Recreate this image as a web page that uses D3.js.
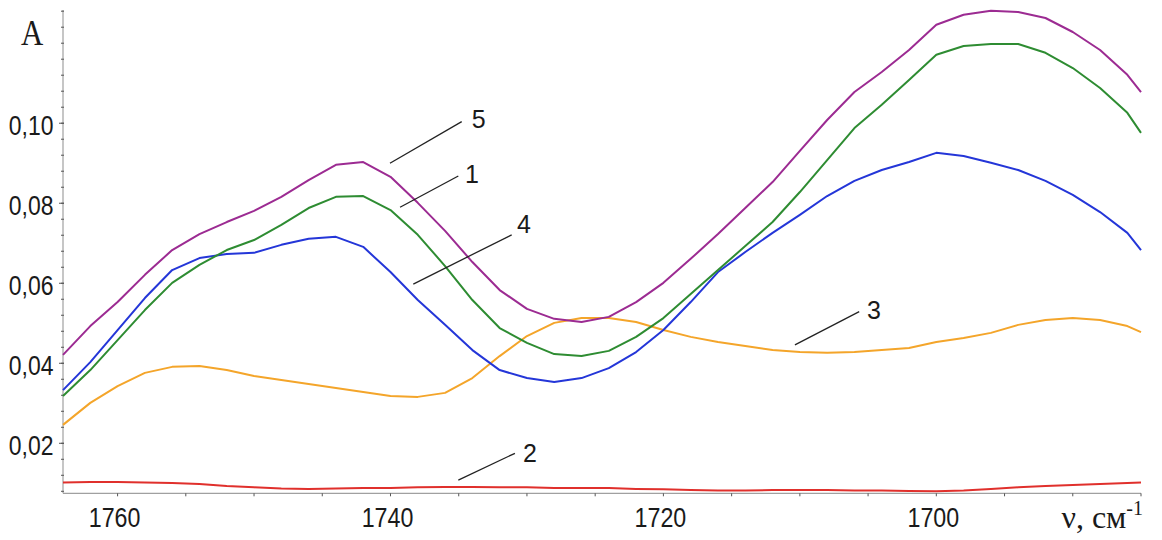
<!DOCTYPE html>
<html>
<head>
<meta charset="utf-8">
<script src="https://cdn.jsdelivr.net/npm/d3@7"></script>
<style>
  html, body { margin: 0; padding: 0; background: #fff; }
  svg { display: block; }
</style>
</head>
<body>
<svg id="chart" width="1162" height="540"></svg>
<script>
// Wavenumbers, cm-1 (shared by all spectra)
const wavenumbers = [1764, 1762, 1760, 1758, 1756, 1754, 1752, 1750, 1748, 1746,
  1744, 1742, 1740, 1738, 1736, 1734, 1732, 1730, 1728, 1726,
  1724, 1722, 1720, 1718, 1716, 1714, 1712, 1710, 1708, 1706,
  1704, 1702, 1700, 1698, 1696, 1694, 1692, 1690, 1688, 1686, 1685];

// Absorbance of each spectrum
const spectrum1 = [0.0318, 0.0383, 0.0458, 0.0533, 0.0601, 0.0646, 0.0683, 0.0708, 0.0746, 0.0788,
  0.0816, 0.0818, 0.0783, 0.0721, 0.0643, 0.0558, 0.0488, 0.0451, 0.0423, 0.0418,
  0.0431, 0.0466, 0.0513, 0.0573, 0.0633, 0.0693, 0.0753, 0.0828, 0.0908, 0.0988,
  0.1046, 0.1108, 0.1171, 0.1193, 0.1198, 0.1198, 0.1176, 0.1138, 0.1088, 0.1026, 0.0976];
const spectrum2 = [0.0102, 0.0103, 0.0103, 0.0102, 0.0101, 0.0098, 0.0093, 0.0090, 0.0087, 0.0086,
  0.0087, 0.0088, 0.0088, 0.0090, 0.0091, 0.0091, 0.0090, 0.0090, 0.0088, 0.0088,
  0.0088, 0.0086, 0.0085, 0.0083, 0.0082, 0.0082, 0.0083, 0.0083, 0.0083, 0.0082,
  0.0082, 0.0081, 0.0080, 0.0082, 0.0086, 0.0090, 0.0093, 0.0096, 0.0098, 0.0101, 0.0102];
const spectrum3 = [0.0246, 0.0301, 0.0343, 0.0376, 0.0391, 0.0393, 0.0383, 0.0368, 0.0358, 0.0348,
  0.0338, 0.0328, 0.0318, 0.0316, 0.0326, 0.0363, 0.0418, 0.0468, 0.0501, 0.0513,
  0.0513, 0.0503, 0.0483, 0.0466, 0.0453, 0.0443, 0.0433, 0.0428, 0.0426, 0.0428,
  0.0433, 0.0438, 0.0453, 0.0463, 0.0476, 0.0496, 0.0508, 0.0513, 0.0508, 0.0493, 0.0478];
const spectrum4 = [0.0333, 0.0403, 0.0483, 0.0563, 0.0633, 0.0663, 0.0673, 0.0676, 0.0696, 0.0711,
  0.0716, 0.0691, 0.0628, 0.0558, 0.0496, 0.0433, 0.0383, 0.0363, 0.0353, 0.0363,
  0.0388, 0.0428, 0.0483, 0.0553, 0.0628, 0.0678, 0.0726, 0.0771, 0.0818, 0.0856,
  0.0883, 0.0903, 0.0926, 0.0918, 0.0901, 0.0883, 0.0856, 0.0821, 0.0778, 0.0726, 0.0683];
const spectrum5 = [0.0421, 0.0493, 0.0553, 0.0621, 0.0683, 0.0723, 0.0753, 0.0781, 0.0816, 0.0858,
  0.0896, 0.0903, 0.0866, 0.0801, 0.0731, 0.0653, 0.0583, 0.0536, 0.0511, 0.0503,
  0.0516, 0.0553, 0.0601, 0.0661, 0.0723, 0.0788, 0.0853, 0.0931, 0.1008, 0.1078,
  0.1128, 0.1183, 0.1246, 0.1271, 0.1281, 0.1278, 0.1263, 0.1228, 0.1183, 0.1121, 0.1078];

// Tick values and labels
const xTickValues = [1760, 1740, 1720, 1700];
const xTickLabels = ["1760", "1740", "1720", "1700"];
const yTickValues = [0.02, 0.04, 0.06, 0.08, 0.10];
const yTickLabels = ["0,02", "0,04", "0,06", "0,08", "0,10"];

// Curve numbers with their leader lines, in data units
const curveNames = ["5", "1", "4", "3", "2"];
const leaderFrom = [[1740.04, 0.0900], [1739.30, 0.0790], [1738.33, 0.0598], [1710.36, 0.0446], [1735.03, 0.0108]];
const leaderTo   = [[1734.78, 0.1004], [1735.03, 0.0868], [1731.12, 0.0721], [1705.65, 0.0529], [1730.88, 0.0175]];
const nameAt     = [[1734.05, 0.0988], [1734.54, 0.0851], [1730.73, 0.0726], [1705.08, 0.0511], [1730.29, 0.0153]];

const series = [
  { values: spectrum2, color: "#e0302c" },
  { values: spectrum3, color: "#f4a52a" },
  { values: spectrum4, color: "#2436d8" },
  { values: spectrum1, color: "#2e8c32" },
  { values: spectrum5, color: "#9c2b92" }
];

const svg = d3.select("#chart");

const x = d3.scaleLinear().domain([1764, 1685]).range([63, 1141]);
const y = d3.scaleLinear().domain([0.0075, 0.1283]).range([493.3, 10]);

const axisColor = "#a0a0a0";
const tickFont = "'Liberation Sans', Arial, sans-serif";

// X axis
const xAxisG = svg.append("g").attr("transform", `translate(0,${y.range()[0]})`);
xAxisG.append("line")
  .attr("x1", x.range()[0]).attr("x2", x.range()[1])
  .attr("stroke", axisColor).attr("stroke-width", 1.2);
const xMinor = d3.range(1760, 1684, -5);
xAxisG.selectAll("line.minor").data(xMinor).join("line")
  .attr("class", "minor")
  .attr("x1", d => x(d)).attr("x2", d => x(d))
  .attr("y1", 0).attr("y2", 3)
  .attr("stroke", "#555").attr("stroke-width", 1);
xAxisG.selectAll("text").data(xTickValues).join("text")
  .attr("transform", d => `translate(${x(d) - 3},33.5) scale(0.83,1)`)
  .attr("text-anchor", "middle")
  .attr("font-family", tickFont)
  .attr("font-size", 28)
  .attr("fill", "#1a1a1a")
  .text((d, i) => xTickLabels[i]);

// Y axis
const yAxisG = svg.append("g").attr("transform", `translate(${x.range()[0]},0)`);
yAxisG.append("line")
  .attr("y1", y.range()[0]).attr("y2", y.range()[1])
  .attr("stroke", axisColor).attr("stroke-width", 1.2);
const yMinor = d3.range(0.008, 0.1281, 0.004);
yAxisG.selectAll("line.minor").data(yMinor).join("line")
  .attr("class", "minor")
  .attr("x1", -2).attr("x2", 1)
  .attr("y1", d => y(d)).attr("y2", d => y(d))
  .attr("stroke", "#555").attr("stroke-width", 1);
yAxisG.selectAll("line.major").data(yTickValues).join("line")
  .attr("class", "major")
  .attr("x1", -4).attr("x2", 1)
  .attr("y1", d => y(d)).attr("y2", d => y(d))
  .attr("stroke", "#555").attr("stroke-width", 1);
yAxisG.selectAll("text").data(yTickValues).join("text")
  .attr("transform", d => `translate(-9.5,${y(d) + 11.5}) scale(0.82,1)`)
  .attr("text-anchor", "end")
  .attr("font-family", tickFont)
  .attr("font-size", 28)
  .attr("fill", "#1a1a1a")
  .text((d, i) => yTickLabels[i]);

// Axis titles
svg.append("text")
  .attr("transform", "translate(21,45) scale(0.88,1)")
  .attr("font-family", "'Liberation Serif', 'Times New Roman', serif")
  .attr("font-size", 35)
  .attr("fill", "#1a1a1a")
  .text("A");

const xt = svg.append("text")
  .attr("x", 1143).attr("y", 528)
  .attr("text-anchor", "end")
  .attr("font-family", "'Liberation Serif', 'Times New Roman', serif")
  .attr("font-size", 32)
  .attr("fill", "#1a1a1a");
xt.append("tspan").text("ν, см");
xt.append("tspan").attr("dy", -13).attr("font-size", 20).text("-1");

// Spectra
const line = d3.line()
  .x((d, i) => x(wavenumbers[i]))
  .y(d => y(d));

svg.append("g").selectAll("path").data(series).join("path")
  .attr("d", s => line(s.values))
  .attr("fill", "none")
  .attr("stroke", s => s.color)
  .attr("stroke-width", 2)
  .attr("stroke-linejoin", "round");

// Curve numbers
const notes = svg.append("g");
curveNames.forEach((name, i) => {
  notes.append("line")
    .attr("x1", x(leaderFrom[i][0])).attr("y1", y(leaderFrom[i][1]))
    .attr("x2", x(leaderTo[i][0])).attr("y2", y(leaderTo[i][1]))
    .attr("stroke", "#222").attr("stroke-width", 1.3);
  notes.append("text")
    .attr("x", x(nameAt[i][0])).attr("y", y(nameAt[i][1]))
    .attr("font-family", tickFont)
    .attr("font-size", 25)
    .attr("fill", "#1a1a1a")
    .text(name);
});
</script>
</body>
</html>
